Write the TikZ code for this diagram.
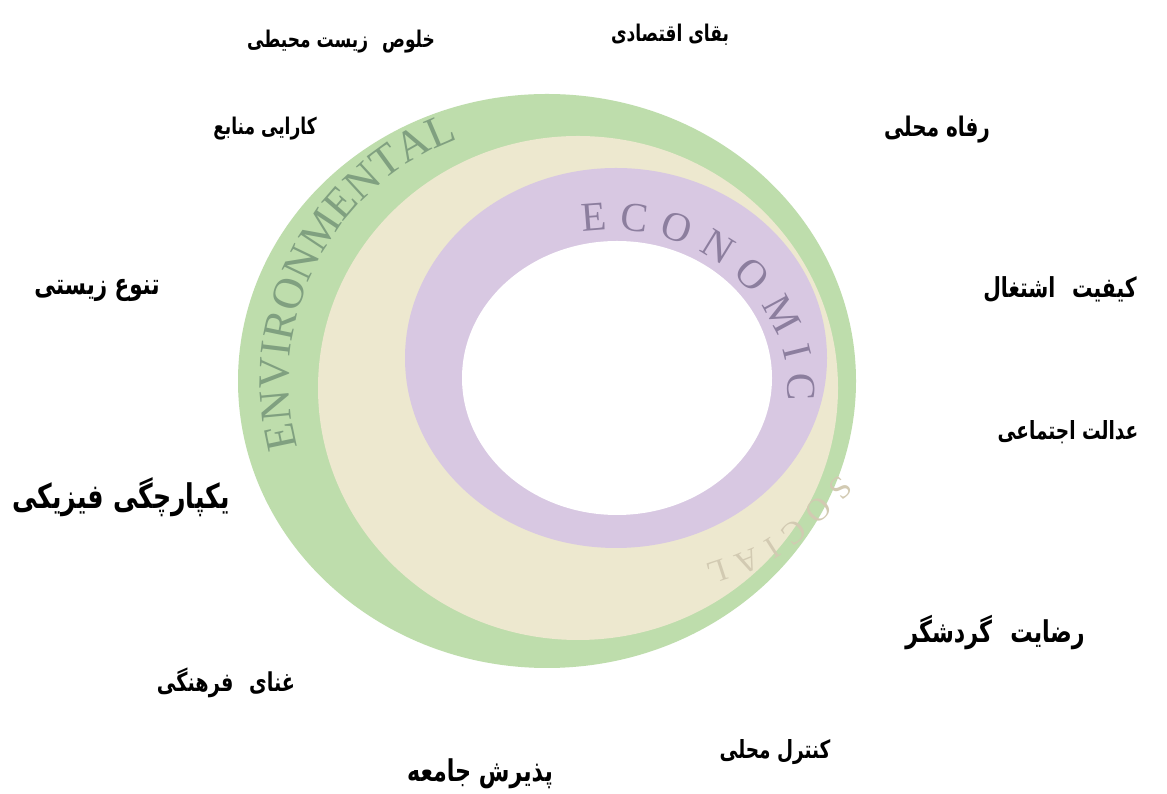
\documentclass[tikz,border=0pt]{standalone}
\usepackage{fontspec}
\usetikzlibrary{decorations.text}
\TeXXeTstate=1
\newfontfamily\arabicfont[Script=Arabic,FakeStretch=0.74]{DejaVu Sans}
\newfontfamily\ringfont{Liberation Serif}
\definecolor{envgreen}{RGB}{190,221,172}
\definecolor{socream}{RGB}{237,232,207}
\definecolor{ecopurple}{RGB}{216,200,226}
\definecolor{envtext}{RGB}{128,160,128}
\definecolor{ecotext}{RGB}{140,126,158}
\definecolor{soctext}{RGB}{210,202,178}
\newcommand{\gapp}{\hspace{0.35em}}
\tikzset{
  lbl/.style={font=\arabicfont\bfseries\fontsize{#1}{#1}\selectfont, inner sep=0pt, text=black}
}
\begin{document}
\begin{tikzpicture}[x=1pt,y=1pt]
\useasboundingbox[fill=white] (0,0) rectangle (1167,794);
% rings
\fill[envgreen] (547,413) ellipse [x radius=309pt, y radius=287pt];
\fill[socream] (578,406) ellipse [x radius=260pt, y radius=252pt];
\fill[ecopurple] (616,436) ellipse [x radius=211pt, y radius=190pt];
\fill[white] (617,416) ellipse [x radius=155pt, y radius=137pt];
% ring labels
\path[decorate, decoration={text along path, text align=center, text color=envtext,
  text={|\ringfont\fontsize{44}{44}\selectfont|ENVIRONMENTAL}}]
  ([shift={(200:258pt)}]547,413) arc[start angle=200, end angle=105, radius=258pt];
\path[decorate, decoration={text along path, text align=fit to path, text color=ecotext,
  text={|\ringfont\fontsize{41}{41}\selectfont|ECONOMIC}}]
  ([shift={(99:178pt and 160pt)}]610,404) arc[start angle=99, end angle=-4, x radius=178pt, y radius=160pt];
\path[decorate, decoration={text along path, text align=fit to path, text color=soctext,
  text={|\ringfont\fontsize{32}{32}\selectfont|SOCIAL}}]
  (839,319) .. controls (769,250) .. (705,229);
% labels
\node[lbl=23] (t1) at (341,752) {\beginR خلوص\gapp{} زیست محیطی\endR};
\node[lbl=23] (t2) at (670,759) {\beginR بقای اقتصادی\endR};
\node[lbl=23] (t3) at (265,665) {\beginR کارایی منابع\endR};
\node[lbl=27] (t4) at (937,664) {\beginR رفاه محلی\endR};
\node[lbl=29] (t5) at (97,504) {\beginR تنوع زیستی\endR};
\node[lbl=27.5] (t6) at (1060,504) {\beginR کیفیت\gapp{} اشتغال\endR};
\node[lbl=25] (t7) at (1068,362) {\beginR عدالت اجتماعی\endR};
\node[lbl=34] (t8) at (121,297) {\beginR یکپارچگی فیزیکی\endR};
\node[lbl=30] (t9) at (995,161) {\beginR رضایت\gapp{} گردشگر\endR};
\node[lbl=26] (t10) at (226,111) {\beginR غنای\gapp{} فرهنگی\endR};
\node[lbl=25] (t11) at (775,42) {\beginR کنترل محلی\endR};
\node[lbl=30] (t12) at (480,20) {\beginR پذیرش جامعه\endR};
\end{tikzpicture}
\end{document}
